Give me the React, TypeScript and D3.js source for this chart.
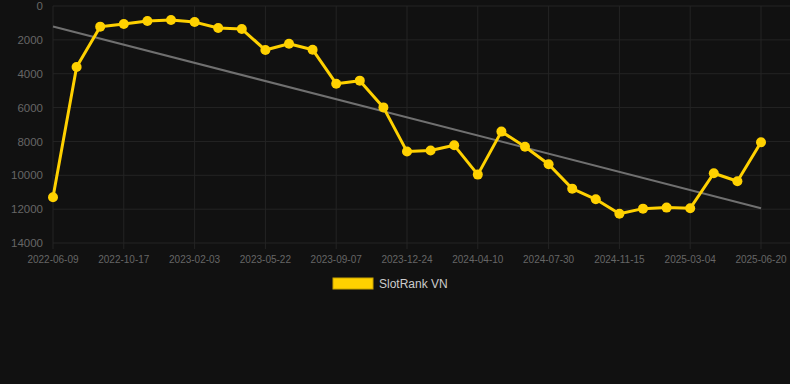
import React from "react";
import * as d3 from "d3";

const categories: string[] = [
  "2022-06-09", "2022-07-22", "2022-09-03",
  "2022-10-17", "2022-11-22", "2022-12-28",
  "2023-02-03", "2023-03-11", "2023-04-16",
  "2023-05-22", "2023-06-29", "2023-08-03",
  "2023-09-07", "2023-10-16", "2023-11-19",
  "2023-12-24", "2024-01-31", "2024-03-06",
  "2024-04-10", "2024-05-18", "2024-06-23",
  "2024-07-30", "2024-09-04", "2024-10-10",
  "2024-11-15", "2024-12-20", "2025-01-26",
  "2025-03-04", "2025-04-08", "2025-05-14",
  "2025-06-20",
];

const rankValues: number[] = [
  11300, 3600, 1220, 1060, 890, 830, 950, 1300, 1360, 2600,
  2230, 2580, 4590, 4410, 5990, 8600, 8540, 8230, 9960, 7420,
  8310, 9350, 10790, 11420, 12270, 11970, 11910, 11950, 9880, 10350,
  8050,
];

const yTicks: number[] = [0, 2000, 4000, 6000, 8000, 10000, 12000, 14000];
const tickEvery = 3;
const seriesName = "SlotRank VN";

const W = 790;
const H = 384;
const left = 53;
const right = 761;
const top = 6;
const bottom = 243;
const gridRight = 790;

export default function App() {
  const x = d3.scalePoint<number>()
    .domain(categories.map((_, i) => i))
    .range([left, right]);
  const y = d3.scaleLinear().domain([0, 14000]).range([top, bottom]);

  const n = rankValues.length;
  const xs = rankValues.map((_, i) => i);
  const mx = d3.mean(xs)!;
  const my = d3.mean(rankValues)!;
  const slope =
    d3.sum(xs, (xi, i) => (xi - mx) * (rankValues[i] - my)) /
    d3.sum(xs, (xi) => (xi - mx) * (xi - mx));
  const intercept = my - slope * mx;

  const line = d3.line<number>()
    .x((_, i) => x(i)!)
    .y((d) => y(d));

  const trendPts: [number, number][] = [
    [x(0)!, y(intercept)],
    [x(n - 1)!, y(intercept + slope * (n - 1))],
  ];

  const font = "'Liberation Sans', Arial, Helvetica, sans-serif";
  const yellow = "#FFD100";

  return (
    <svg
      width={W}
      height={H}
      style={{ position: "absolute", left: 0, top: 0, background: "#111111" }}
      fontFamily={font}
    >
      <rect x={0} y={0} width={W} height={H} fill="#111111" />
      {/* horizontal grid */}
      {yTicks.map((t) => (
        <line
          key={"hg" + t}
          x1={left}
          x2={gridRight}
          y1={y(t)}
          y2={y(t)}
          stroke="#242424"
          strokeWidth={1}
        />
      ))}
      {/* vertical grid */}
      {categories.map((c, i) =>
        i % tickEvery === 0 ? (
          <line
            key={"vg" + c}
            x1={x(i)!}
            x2={x(i)!}
            y1={top}
            y2={bottom + 6}
            stroke="#242424"
            strokeWidth={1}
          />
        ) : null
      )}
      {/* y labels */}
      {yTicks.map((t) => (
        <text
          key={"yl" + t}
          x={43}
          y={y(t)}
          dy="0.36em"
          textAnchor="end"
          fontSize={11.5}
          fill="#666666"
        >
          {t}
        </text>
      ))}
      {/* x labels */}
      {categories.map((c, i) =>
        i % tickEvery === 0 ? (
          <text
            key={"xl" + c}
            x={x(i)!}
            y={263}
            textAnchor="middle"
            fontSize={10}
            fill="#666666"
          >
            {c}
          </text>
        ) : null
      )}
      {/* trend line */}
      <line
        x1={trendPts[0][0]}
        y1={trendPts[0][1]}
        x2={trendPts[1][0]}
        y2={trendPts[1][1]}
        stroke="#707070"
        strokeWidth={2}
      />
      {/* series */}
      <path
        d={line(rankValues)!}
        fill="none"
        stroke={yellow}
        strokeWidth={3}
        strokeLinejoin="round"
      />
      {rankValues.map((v, i) => (
        <circle key={"pt" + i} cx={x(i)!} cy={y(v)} r={5} fill={yellow} />
      ))}
      {/* legend */}
      <rect x={333} y={278} width={40} height={11} fill={yellow} stroke="#C9A300" strokeWidth={1} />
      <text x={379} y={284} dy="0.35em" fontSize={12} fill="#CCCCCC">
        {seriesName}
      </text>
    </svg>
  );
}
